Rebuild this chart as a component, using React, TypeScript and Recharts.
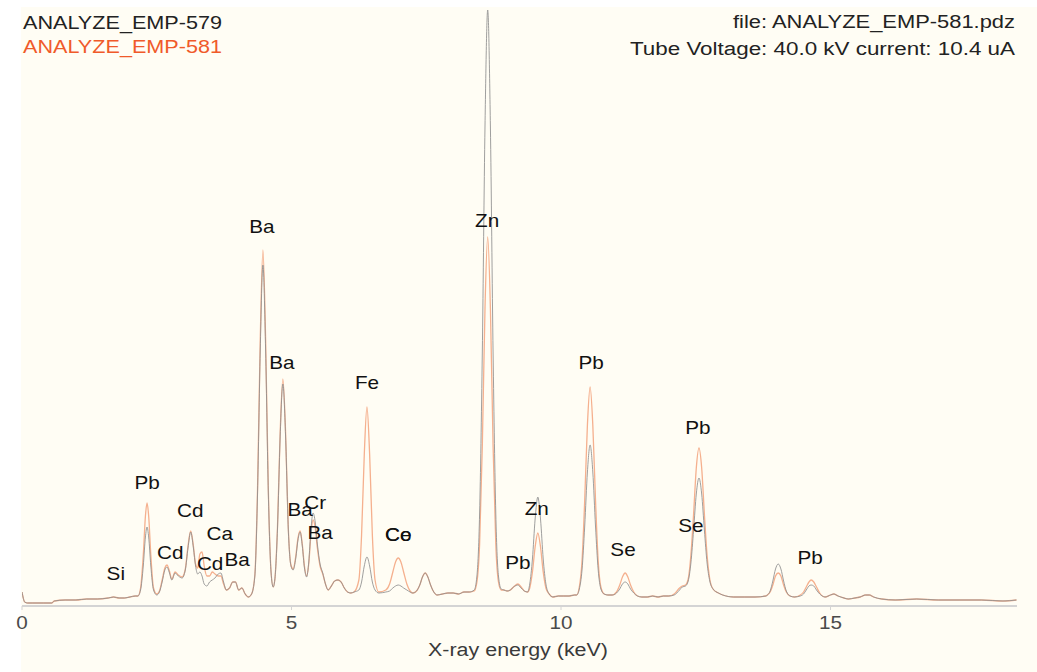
import React from "react";
import { ComposedChart, Line, Scatter, XAxis, YAxis } from "recharts";

// XRF spectrum (counts in arbitrary units)
const energyKeV = [
  0, 0.05, 0.1, 0.2, 0.4, 0.55, 0.6, 0.8, 1.0, 1.2, 1.4, 1.6, 1.7, 1.8, 1.9, 2.0, 2.1, 2.15,
  2.2, 2.25, 2.29, 2.32, 2.35, 2.39, 2.44, 2.5,
  2.55, 2.6, 2.65, 2.69, 2.73, 2.78, 2.84, 2.9, 2.97, 3.03,
  3.08, 3.13, 3.18, 3.22, 3.26, 3.3, 3.34, 3.38, 3.43, 3.48,
  3.53, 3.58, 3.64, 3.69, 3.74, 3.79, 3.85, 3.91, 3.96, 4.02,
  4.08, 4.14, 4.2, 4.26,
  4.32, 4.37, 4.42, 4.47, 4.52, 4.57, 4.62, 4.66, 4.69, 4.74,
  4.79, 4.84, 4.89, 4.94, 4.99, 5.03,
  5.08, 5.12, 5.16, 5.2, 5.24, 5.28, 5.32, 5.36, 5.4, 5.44,
  5.48, 5.53, 5.58, 5.63, 5.68, 5.74, 5.8, 5.86, 5.92, 5.98,
  6.04, 6.1, 6.16,
  6.25, 6.3, 6.35, 6.4, 6.45, 6.5, 6.55, 6.62, 6.75, 6.82,
  6.88, 6.93, 6.98, 7.03, 7.08, 7.14, 7.2, 7.25, 7.32, 7.38,
  7.43, 7.48, 7.53, 7.58, 7.64, 7.7,
  7.8, 7.9, 8.0, 8.1, 8.2, 8.3, 8.39, 8.44, 8.49, 8.54,
  8.59, 8.64, 8.69, 8.74, 8.79, 8.84, 8.89, 8.94, 9.0, 9.06,
  9.12, 9.2, 9.26, 9.32, 9.38,
  9.42, 9.47, 9.52, 9.57, 9.62, 9.67, 9.72, 9.78, 9.85, 9.95,
  10.05, 10.15, 10.25, 10.29, 10.34, 10.39, 10.44, 10.49, 10.54, 10.59,
  10.64, 10.69, 10.74, 10.8, 10.87, 10.95, 11.03, 11.09, 11.14, 11.19,
  11.24, 11.29, 11.35, 11.42, 11.5, 11.6, 11.7, 11.8, 11.9, 12.0,
  12.1, 12.2, 12.25,
  12.31, 12.36, 12.41, 12.46, 12.51, 12.56, 12.61, 12.66, 12.71, 12.76,
  12.82, 12.92, 13.0, 13.2, 13.4, 13.6, 13.8, 13.83, 13.88, 13.93,
  13.98, 14.03, 14.08, 14.13, 14.18, 14.25, 14.33, 14.44, 14.5, 14.55,
  14.6, 14.64, 14.69, 14.74, 14.8, 14.9, 15.0, 15.06, 15.14, 15.25,
  15.33, 15.45, 15.55, 15.65, 15.72, 15.8, 15.95, 16.2, 16.6, 17.0,
  17.4, 17.8, 18.2, 18.45,
];

// ANALYZE_EMP-579 (grey)
const countsEmp579 = [
  14, 4, 3, 3, 3, 3, 5, 6, 6, 7, 7, 8, 9, 8, 8, 9, 10, 10,
  16, 40, 69, 79, 69, 40, 16, 11,
  14, 24, 36, 39, 34, 26, 33, 30, 28, 36,
  58, 74, 58, 40, 32, 34, 30, 22, 20, 24,
  26, 28, 32, 33, 24, 16, 18, 24, 24, 16,
  18, 12, 9, 12,
  30, 113, 255, 341, 255, 113, 34, 19, 26, 77,
  170, 222, 170, 77, 40, 36,
  48, 66, 74, 60, 38, 29, 44, 76, 93, 84,
  62, 42, 33, 22, 16, 20, 25, 26, 24, 18,
  14, 13, 14,
  16, 24, 40, 49, 40, 24, 16, 13, 14, 15,
  18, 20, 21, 20, 18, 16, 14, 13, 15, 21,
  29, 33, 29, 21, 14, 11,
  12, 13, 13, 12, 14, 14, 16, 30, 93, 253,
  480, 596, 480, 253, 93, 30, 17, 16, 15, 16,
  19, 21, 18, 15, 14,
  22, 47, 87, 109, 87, 47, 22, 12, 9, 10,
  10, 10, 11, 11, 17, 36, 80, 134, 161, 134,
  80, 36, 17, 12, 11, 11, 13, 17, 22, 24,
  22, 17, 13, 10, 9, 9, 10, 9, 10, 10,
  11, 16, 19,
  20, 25, 43, 76, 112, 128, 112, 76, 43, 25,
  17, 13, 11, 9, 9, 9, 10, 11, 15, 25,
  37, 42, 37, 25, 15, 10, 9, 10, 12, 16,
  20, 21, 20, 16, 12, 9, 11, 12, 10, 8,
  7, 8, 9, 11, 11, 9, 7, 6, 7, 6,
  6, 6, 5, 6,
];

// ANALYZE_EMP-581 (orange)
const countsEmp581 = [
  14, 4, 3, 3, 3, 3, 5, 6, 6, 7, 7, 8, 9, 8, 8, 9, 10, 10,
  18, 51, 90, 103, 90, 51, 18, 12,
  15, 26, 38, 41, 36, 27, 34, 31, 29, 37,
  60, 75, 60, 42, 38, 52, 54, 40, 30, 30,
  34, 32, 30, 30, 22, 16, 18, 24, 24, 16,
  18, 12, 9, 12,
  31, 117, 266, 356, 266, 117, 35, 19, 26, 79,
  174, 227, 174, 79, 41, 37,
  50, 68, 75, 62, 40, 30, 42, 71, 86, 78,
  58, 40, 32, 22, 16, 20, 25, 26, 24, 18,
  14, 13, 14,
  26, 71, 151, 199, 151, 71, 26, 14, 16, 22,
  34, 44, 48, 44, 34, 22, 15, 13, 15, 21,
  29, 33, 29, 21, 14, 11,
  12, 13, 13, 12, 14, 14, 15, 24, 62, 160,
  298, 369, 298, 160, 62, 24, 16, 16, 15, 16,
  19, 22, 19, 15, 14,
  18, 34, 59, 73, 59, 34, 18, 12, 9, 10,
  10, 10, 11, 11, 19, 45, 106, 181, 219, 181,
  106, 45, 19, 12, 11, 11, 14, 21, 29, 33,
  29, 21, 14, 10, 9, 9, 10, 9, 10, 10,
  12, 18, 20,
  21, 27, 51, 92, 138, 158, 138, 92, 51, 27,
  17, 13, 11, 9, 9, 9, 10, 11, 14, 21,
  30, 33, 30, 21, 14, 10, 9, 11, 14, 19,
  24, 26, 24, 19, 13, 9, 11, 12, 10, 8,
  7, 8, 9, 11, 11, 9, 7, 6, 7, 6,
  6, 6, 5, 6,
];

const energyTicks = [0, 5, 10, 15];

// element markers: energy (keV) and height where the label sits
const peakLabels = [
  { element: "Si", energy: 1.74, level: 32 },
  { element: "Pb", energy: 2.32, level: 123 },
  { element: "Cd", energy: 2.75, level: 53 },
  { element: "Cd", energy: 3.12, level: 95 },
  { element: "Ca", energy: 3.67, level: 72 },
  { element: "Cd", energy: 3.49, level: 42 },
  { element: "Ba", energy: 3.99, level: 46 },
  { element: "Ba", energy: 4.45, level: 379 },
  { element: "Ba", energy: 4.82, level: 243 },
  { element: "Ba", energy: 5.16, level: 96 },
  { element: "Cr", energy: 5.44, level: 103 },
  { element: "Ba", energy: 5.53, level: 73 },
  { element: "Fe", energy: 6.4, level: 223 },
  { element: "Ce", energy: 6.98, level: 71 },
  { element: "Co", energy: 6.98, level: 71 },
  { element: "Zn", energy: 8.63, level: 385 },
  { element: "Pb", energy: 9.2, level: 43 },
  { element: "Zn", energy: 9.55, level: 97 },
  { element: "Pb", energy: 10.56, level: 243 },
  { element: "Se", energy: 11.15, level: 56 },
  { element: "Pb", energy: 12.54, level: 178 },
  { element: "Se", energy: 12.41, level: 80 },
  { element: "Pb", energy: 14.62, level: 48 },
];

const spectrum = energyKeV.map((energy, i) => ({
  energy,
  emp579: countsEmp579[i],
  emp581: countsEmp581[i],
}));

const FONT = "'Liberation Sans', Arial, Helvetica, sans-serif";

// text in the source is a bit wider than plain Arial
const WideText = ({ x, y, fill, size = 18, anchor = "middle", children }: any) => (
  <text
    transform={`translate(${x},${y}) scale(1.15,1)`}
    textAnchor={anchor}
    dominantBaseline="central"
    fontSize={size}
    fontFamily={FONT}
    fill={fill}
  >
    {children}
  </text>
);

const EnergyTick = ({ x, payload }: any) => (
  <WideText x={x} y={623} fill="#4a4a4a">
    {payload.value}
  </WideText>
);

const PeakLabel = ({ cx, cy, payload }: any) => (
  <WideText x={cx} y={cy} fill="#111" size={18}>
    {payload.element}
  </WideText>
);

export default function App() {
  return (
    <div style={{ position: "absolute", left: 0, top: 0, width: 1037, height: 672, background: "#fff" }}>
      <div style={{ position: "absolute", left: 21, top: 7, width: 1016, height: 665, background: "#fffdf4" }} />
      <div style={{ position: "absolute", left: 0, top: 0 }}>
        <ComposedChart width={1037} height={672} data={spectrum} margin={{ top: 10, right: 20, left: 22, bottom: 26 }}>
          <XAxis
            type="number"
            dataKey="energy"
            domain={[0, 18.46]}
            ticks={energyTicks}
            allowDataOverflow
            height={40}
            axisLine={{ stroke: "#d4d4d4", strokeWidth: 2 }}
            tickLine={{ stroke: "#d4d4d4" }}
            tickSize={4}
            tick={<EnergyTick />}
          />
          <YAxis hide type="number" domain={[0, 596]} allowDataOverflow />
          <Line
            type="monotone"
            dataKey="emp581"
            stroke="#f5b08e"
            strokeWidth={1.3}
            dot={false}
            isAnimationActive={false}
          />
          <Line
            type="monotone"
            dataKey="emp579"
            stroke="#8e8e8e"
            strokeWidth={1}
            strokeOpacity={0.85}
            dot={false}
            isAnimationActive={false}
          />
          <Scatter data={peakLabels} dataKey="level" shape={<PeakLabel />} isAnimationActive={false} />
        </ComposedChart>
      </div>
      <svg width={1037} height={672} style={{ position: "absolute", left: 0, top: 0, pointerEvents: "none" }}>
        <text x={23} y={23} dominantBaseline="central" fontSize={18} fontFamily={FONT} fill="#222" textLength={199} lengthAdjust="spacingAndGlyphs">
          ANALYZE_EMP-579
        </text>
        <text x={23} y={47} dominantBaseline="central" fontSize={18} fontFamily={FONT} fill="#f05a2a" textLength={199} lengthAdjust="spacingAndGlyphs">
          ANALYZE_EMP-581
        </text>
        <text x={733} y={22} dominantBaseline="central" fontSize={18} fontFamily={FONT} fill="#222" textLength={282} lengthAdjust="spacingAndGlyphs">
          file: ANALYZE_EMP-581.pdz
        </text>
        <text x={630} y={49} dominantBaseline="central" fontSize={18} fontFamily={FONT} fill="#222" textLength={385} lengthAdjust="spacingAndGlyphs">
          Tube Voltage: 40.0 kV current: 10.4 uA
        </text>
        <text x={428} y={650} dominantBaseline="central" fontSize={18} fontFamily={FONT} fill="#3a3a3a" textLength={180} lengthAdjust="spacingAndGlyphs">
          X-ray energy (keV)
        </text>
      </svg>
    </div>
  );
}
